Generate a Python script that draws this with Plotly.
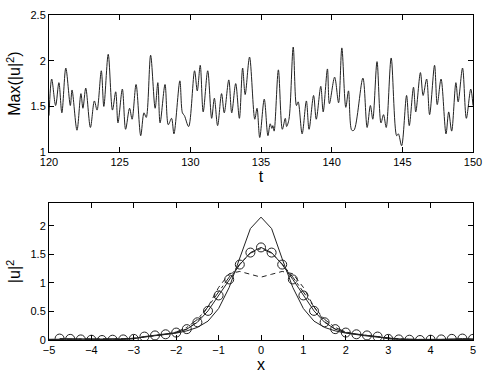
import plotly.graph_objects as go
from plotly.subplots import make_subplots

# ---- top panel: Max(|u|^2) vs t (read peaks/troughs) ----
t_vals = [120.00, 120.19, 120.47, 120.70, 120.91, 121.19, 121.51, 121.63, 121.98, 122.26,
          122.40, 122.60, 122.93, 123.21, 123.40, 123.70, 123.88, 124.19, 124.49, 124.72,
          124.88, 125.19, 125.42, 125.70, 125.88, 126.16, 126.49, 126.72, 126.88, 127.19,
          127.51, 127.70, 127.86, 128.21, 128.44, 128.67, 128.84, 129.26, 129.44, 129.58,
          129.88, 130.30, 130.49, 130.70, 130.91, 131.23, 131.51, 131.70, 131.93, 132.21,
          132.40, 132.72, 132.93, 133.21, 133.47, 133.70, 133.88, 134.19, 134.56, 134.72,
          134.91, 135.23, 135.49, 135.65, 135.77, 135.84, 135.93, 136.23, 136.51, 136.72,
          136.81, 136.98, 137.28, 137.51, 137.63, 137.91, 138.21, 138.40, 138.72, 138.91,
          139.23, 139.40, 139.70, 139.84, 140.21, 140.49, 140.72, 141.00, 141.19, 141.42,
          141.58, 142.21, 142.51, 142.74, 142.91, 143.21, 143.49, 143.67, 143.86, 144.21,
          144.60, 144.72, 144.95, 145.30, 145.49, 145.79, 145.95, 146.28, 146.47, 146.72,
          146.93, 147.28, 147.47, 147.74, 148.09, 148.28, 148.49, 148.79, 148.95, 149.26,
          149.53, 149.84, 150.00]
max_u2 = [1.40, 1.80, 1.51, 1.76, 1.43, 1.92, 1.51, 1.68, 1.24, 1.64,
          1.48, 1.70, 1.27, 1.56, 1.46, 1.89, 1.50, 2.07, 1.46, 1.66,
          1.32, 1.69, 1.25, 1.48, 1.36, 1.74, 1.18, 1.43, 1.38, 2.06,
          1.48, 1.76, 1.32, 1.74, 1.30, 1.37, 1.20, 1.78, 1.43, 1.40,
          1.28, 1.89, 1.67, 1.95, 1.44, 1.89, 1.37, 1.59, 1.29, 1.64,
          1.43, 1.79, 1.43, 1.75, 1.37, 1.92, 1.63, 2.04, 1.36, 1.48,
          1.16, 1.58, 1.18, 1.31, 1.26, 1.29, 1.23, 1.90, 1.25, 1.37,
          1.28, 1.36, 2.15, 1.51, 1.55, 1.20, 1.56, 1.25, 1.62, 1.36,
          1.72, 1.44, 1.91, 1.53, 1.82, 1.54, 2.14, 1.49, 1.67, 1.24,
          1.24, 1.81, 1.27, 1.51, 1.36, 1.99, 1.32, 1.41, 1.27, 2.03,
          1.18, 1.20, 1.07, 1.62, 1.29, 1.71, 1.44, 1.87, 1.62, 1.80,
          1.41, 1.95, 1.52, 1.80, 1.20, 1.44, 1.23, 1.76, 1.55, 1.92,
          1.37, 1.69, 1.51]

# ---- bottom panel: profiles |u|^2 vs x ----
x_grid = [-5.0, -4.75, -4.5, -4.25, -4.0, -3.75, -3.5, -3.25, -3.0, -2.75, -2.5, -2.25, -2.0,
          -1.75, -1.5, -1.25, -1.0, -0.75, -0.5, -0.25, 0.0, 0.25, 0.5, 0.75, 1.0, 1.25,
          1.5, 1.75, 2.0, 2.25, 2.5, 2.75, 3.0, 3.25, 3.5, 3.75, 4.0, 4.25, 4.5, 4.75, 5.0]
u2_tall = [0.01, 0.01, 0.01, 0.01, 0.01, 0.01, 0.01, 0.02, 0.03, 0.05, 0.07, 0.09, 0.12,
           0.16, 0.22, 0.33, 0.55, 0.92, 1.42, 1.95, 2.15, 1.95, 1.42, 0.92, 0.55, 0.33,
           0.22, 0.16, 0.12, 0.09, 0.07, 0.05, 0.03, 0.02, 0.01, 0.01, 0.01, 0.01, 0.01, 0.01, 0.01]
u2_circ = [0.02, 0.025, 0.02, 0.01, 0.005, 0.0, 0.005, 0.01, 0.02, 0.06, 0.08, 0.10, 0.13,
           0.19, 0.31, 0.51, 0.78, 1.06, 1.32, 1.53, 1.62, 1.53, 1.32, 1.06, 0.78, 0.51,
           0.31, 0.19, 0.13, 0.10, 0.08, 0.06, 0.02, 0.01, 0.005, 0.0, 0.005, 0.01, 0.02, 0.025, 0.02]
u2_dash = [0.01, 0.01, 0.01, 0.01, 0.01, 0.01, 0.01, 0.02, 0.03, 0.05, 0.08, 0.10, 0.13,
           0.19, 0.32, 0.58, 0.92, 1.16, 1.20, 1.15, 1.10, 1.15, 1.20, 1.16, 0.92, 0.58,
           0.32, 0.19, 0.13, 0.10, 0.08, 0.05, 0.03, 0.02, 0.01, 0.01, 0.01, 0.01, 0.01, 0.01, 0.01]
u2_dashdot = [0.01, 0.01, 0.01, 0.01, 0.01, 0.01, 0.01, 0.02, 0.03, 0.05, 0.08, 0.10, 0.14,
              0.22, 0.36, 0.58, 0.84, 1.10, 1.33, 1.52, 1.60, 1.52, 1.33, 1.10, 0.84, 0.58,
              0.36, 0.22, 0.14, 0.10, 0.08, 0.05, 0.03, 0.02, 0.01, 0.01, 0.01, 0.01, 0.01, 0.01, 0.01]

fig = make_subplots(rows=2, cols=1, vertical_spacing=0.156)

fig.add_trace(go.Scatter(x=t_vals, y=max_u2, mode="lines", line=dict(color="#222", width=1, shape="spline", smoothing=0.9),
                         showlegend=False), row=1, col=1)

fig.add_trace(go.Scatter(x=x_grid, y=u2_dash, mode="lines", line=dict(color="#222", width=1, dash="5px,4px"),
                         showlegend=False), row=2, col=1)
fig.add_trace(go.Scatter(x=x_grid, y=u2_dashdot, mode="lines", line=dict(color="#222", width=1, dash="dashdot"),
                         showlegend=False), row=2, col=1)
fig.add_trace(go.Scatter(x=x_grid, y=u2_tall, mode="lines", line=dict(color="#222", width=1),
                         showlegend=False), row=2, col=1)
fig.add_trace(go.Scatter(x=x_grid[1:], y=u2_circ[1:], mode="lines+markers", line=dict(color="#222", width=1),
                         marker=dict(symbol="circle-open", size=9, color="#222", line=dict(width=1)),
                         showlegend=False), row=2, col=1)

axis_common = dict(showline=True, linecolor="black", linewidth=1, mirror="ticks", ticks="inside",
                   ticklen=5, tickcolor="black", showgrid=False, zeroline=False,
                   tickfont=dict(family="Liberation Sans, Arial, sans-serif", size=11, color="black"))

fig.update_xaxes(range=[120, 150], tickvals=[120, 125, 130, 135, 140, 145, 150],
                 title=dict(text="t", font=dict(size=16, family="Liberation Sans, Arial", color="black"), standoff=2),
                 row=1, col=1, **axis_common)
fig.update_yaxes(range=[1, 2.5], tickvals=[1, 1.5, 2, 2.5], ticktext=["1", "1.5", "2", "2.5"],
                 title=dict(text="Max(|u|<sup>2</sup>)", font=dict(size=16, family="Liberation Sans, Arial", color="black"), standoff=5),
                 row=1, col=1, **axis_common)
fig.update_xaxes(range=[-5, 5], tickvals=list(range(-5, 6)),
                 title=dict(text="x", font=dict(size=16, family="Liberation Sans, Arial", color="black"), standoff=2),
                 row=2, col=1, **axis_common)
fig.update_yaxes(range=[0, 2.4], tickvals=[0, 0.5, 1, 1.5, 2], ticktext=["0", "0.5", "1", "1.5", "2"],
                 title=dict(text="|u|<sup>2</sup>", font=dict(size=16, family="Liberation Sans, Arial", color="black"), standoff=5),
                 row=2, col=1, **axis_common)

fig.update_layout(width=491, height=378, margin=dict(l=49, r=12, t=9, b=30),
                  paper_bgcolor="white", plot_bgcolor="white",
                  font=dict(family="Liberation Sans, Arial, sans-serif", color="black"))
fig.layout.yaxis.domain = [0.578, 1.0]
fig.layout.yaxis2.domain = [0.0, 0.422]

fig.write_html("out.html",
               config={"displayModeBar": False, "responsive": False},
               post_script="document.body.style.margin='0';document.body.style.padding='0';document.body.style.overflow='hidden';")
